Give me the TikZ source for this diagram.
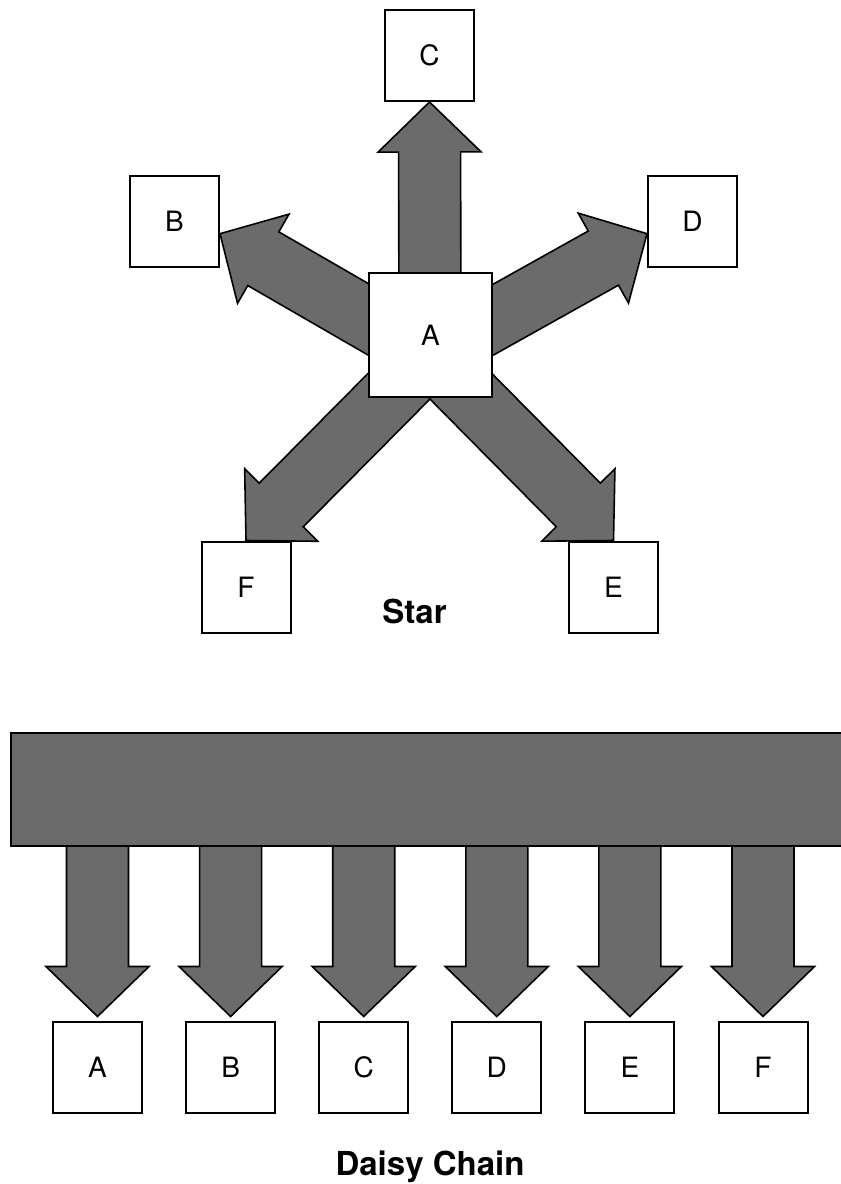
\documentclass[tikz,border=0pt]{standalone}
\usepackage{fontspec}
\setmainfont{TeX Gyre Heros}
\usetikzlibrary{calc}

% block arrow from #1 to #2
\newcommand{\fatarrow}[2]{%
  \coordinate (h) at ($(#2)!25pt!(#1)$);
  \filldraw[fatarrow] ($(#1)!15.5pt!90:(#2)$) -- ($(h)!15.5pt!90:(#2)$)
    -- ($(h)!25.75pt!90:(#2)$) -- (#2) -- ($(h)!25.75pt!-90:(#2)$)
    -- ($(h)!15.5pt!-90:(#2)$) -- ($(#1)!15.5pt!-90:(#2)$) -- cycle;
}

\begin{document}
\begin{tikzpicture}[x=0.5pt, y=-0.5pt,
  box/.style={draw, line width=1pt, fill=white, minimum width=44.5pt, minimum height=45.5pt, inner sep=0pt, font=\fontsize{14}{16}\selectfont},
  fatarrow/.style={fill=black!58, draw=black, line width=0.8pt, line join=miter},
  netname/.style={anchor=base, font=\fontsize{16.5}{20}\selectfont\bfseries}]
  \useasboundingbox (0,0) rectangle (841,1184);
  % star
  \node[box] (C) at (429.5,55.5) {C};
  \node[box] (B) at (174.5,221.5) {B};
  \node[box] (D) at (692.5,221.5) {D};
  \node[box] (F) at (246,587) {F};
  \node[box] (E) at (613.5,587) {E};
  \coordinate (hub) at (430,355);
  \fatarrow{hub}{C.south}
  \fatarrow{hub}{B.-15}
  \fatarrow{hub}{D.195}
  \fatarrow{hub}{F.north}
  \fatarrow{hub}{E.north}
  \node[box, minimum width=61.5pt, minimum height=62pt] (A) at (430.5,335) {A};
  \node[netname] (star) at (414.5,623) {Star};
  % daisy chain
  \foreach \n [count=\i from 0] in {A,B,C,D,E,F}
    \node[box, outer sep=2.5pt] (d\n) at ({97.5+133.1*\i},1067) {\n};
  \foreach \n in {A,B,C,D,E,F}
    \fatarrow{d\n |- 0,790}{d\n.north}
  \node[fatarrow, minimum width=419.5pt, minimum height=56.5pt, inner sep=0pt] (bus) at (430.5,789.5) {};
  \node[netname] (chain) at (430,1175) {Daisy Chain};
\end{tikzpicture}
\end{document}
